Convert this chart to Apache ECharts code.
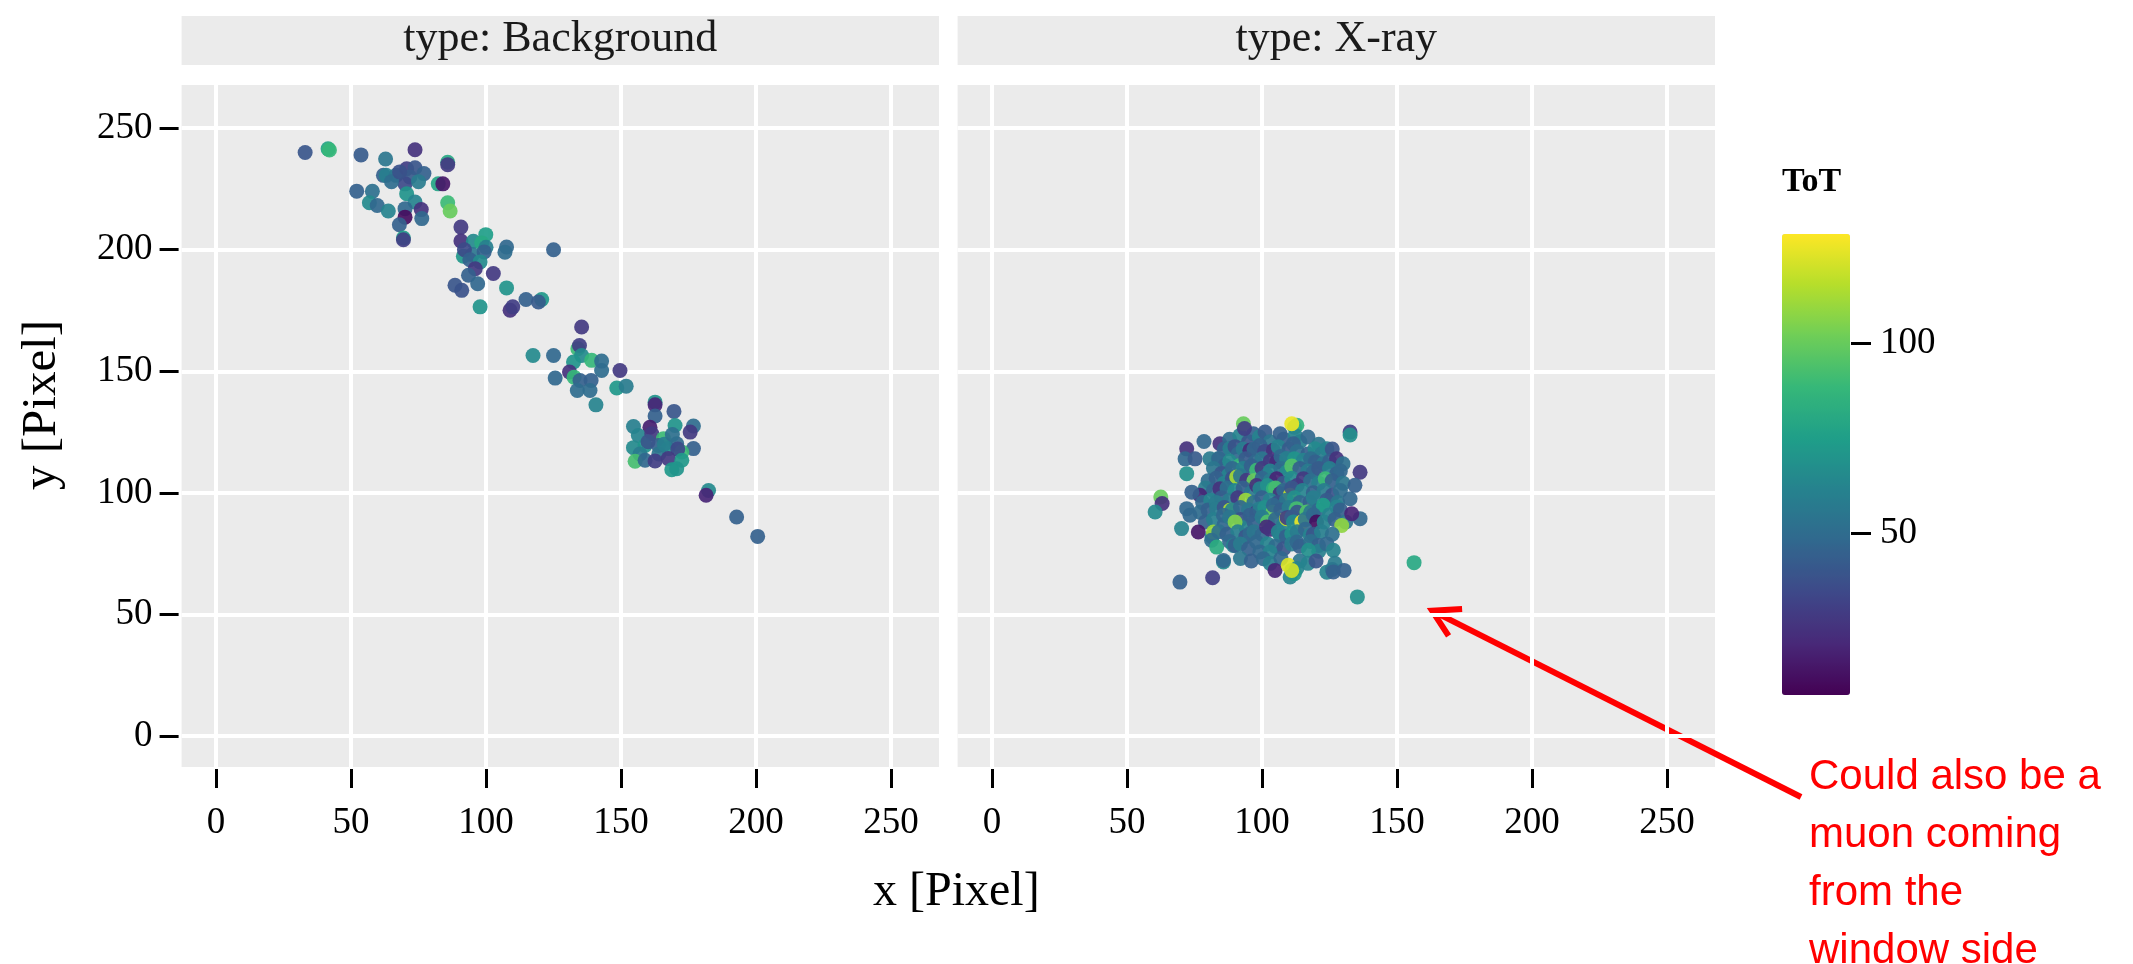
<!DOCTYPE html>
<html><head><meta charset="utf-8">
<script src="https://cdn.jsdelivr.net/npm/echarts@6/dist/echarts.min.js"></script>
<style>html,body{margin:0;padding:0;background:#fff}#c{width:2133px;height:964px}</style>
</head><body><div id="c"></div>
<script>
// ---------- DATA ----------
const panelTitles = ['type: Background', 'type: X-ray'];
const axisTickValues = [0, 50, 100, 150, 200, 250];
const axisRange = [-12.75, 267.75];
const colorTickValues = [50, 100];
const totRange = [7.4, 128.7];
const xTitle = 'x [Pixel]';
const yTitle = 'y [Pixel]';
const colorTitle = 'ToT';
const noteLines = ['Could also be a', 'muon coming', 'from the', 'window side'];
const arrowTipData = [163, 51.5];

// [x, y, ToT]
const backgroundHits = [
[33,240,40],[41.5,241.5,78],[42,241,88],[53.7,239,42],[62.8,237.3,55],[73.7,241.1,25],[85.8,236,80],[85.8,235,28],
[62,230.6,45],[63,230.6,60],[66.7,230.6,55],[70.6,233.3,30],[73.7,233.7,40],[77,231.3,45],[71.8,229.9,42],[70,227.1,35],
[65,228,50],[68,232,38],[75,228,58],
[52.1,224.1,45],[57.9,224,52],[56.8,219.3,65],[59.7,218.2,48],[63.8,215.9,62],[70.6,223,70],[73.7,219.6,62],[70,216.9,48],
[70,213.4,12],[76,216.5,25],[76.2,212.8,48],[67.9,210.3,45],[69.4,204.8,75],[69.4,204.1,30],[82.3,227.1,78],[84,227.1,15],
[85.8,219.3,90],[86.7,215.9,100],[90.7,209.3,28],[90.7,203.6,25],[95.3,203.5,65],[99.9,206.2,75],[98.4,202.8,80],[91.6,197.3,72],
[95,198,55],[92,200,35],[100,201,60],
[94,195.9,45],[99.3,199.1,45],[97.8,195,65],[96,192.2,28],[93.5,189.5,45],[88.5,185.4,40],[91,183.3,38],[96.9,186,48],
[102.7,190.2,28],[107.6,201.1,48],[107,199,50],[107.6,184.3,70],[97.8,176.5,70],[108.9,175.1,25],[109.9,176.5,30],[114.8,179.5,45],
[120.6,179.5,72],[119.4,178.5,42],[125,200,45],[135.4,168.2,28],[117.4,156.5,65],[125,156.5,48],
[134,159.3,90],[134.6,160.6,30],[135.4,156.5,65],[132.4,153.8,70],[139.1,154.5,88],[142.8,154.2,50],[142.8,150.3,50],[130.9,149.7,25],
[132.6,147.6,88],[125.6,147.2,48],[134.8,146.2,45],[138.9,146.2,45],[133.8,142.1,50],[138.5,142.1,50],[149.6,150.3,28],[148.4,143.1,72],
[151.9,143.9,58],[140.7,136.2,62],
[162.6,137.3,70],[162.6,136.2,20],[169.6,133.5,40],[162.6,131.6,45],[154.6,127.3,60],[160.7,127,18],[170,127.7,70],[176.8,127.5,50],
[175.6,125,28],[156.4,123.6,62],[161.4,124.3,28],[165.7,122.3,90],[154.6,118.6,65],[158.9,119.5,70],[163.8,119.5,45],[167.5,118.2,68],
[170.6,120.2,48],[176.8,118.2,45],[172.5,116.8,90],[164,116,55],[166,120,60],[160,121,40],[169,124,52],[157,116,58],[171,118,35],
[155.2,113,92],[158.9,113.4,48],[162.6,113.1,30],[167.5,114.1,28],[172.5,113.4,72],[168.8,109.5,72],[170.6,109.9,70],
[182.4,101,65],[181.5,99,20],[192.8,90.1,45],[200.6,82.1,45]
];

const xrayHits = [
[62.5,98.3,100],[63,95.6,25],[60.4,92.1,65],[69.6,63.3,45],[81.7,65.1,30],[72.1,107.9,68],[72.1,118.1,25],[71.5,114,48],
[78.5,121.1,48],[84.4,120.2,25],[75.2,114,42],[80.7,114,58],[83.8,114,60],
[88,122,50],[91.8,123.6,62],[95,121,40],[96.8,124.3,45],[99,123,62],[101.1,125,42],[103,121,55],[106.7,124.3,45],[108,122,45],
[112,127,70],[112.9,127.8,85],[112.3,123.6,62],[114,121,60],[117,123,48],[121,120,55],
[86,118,45],[88.1,118.2,60],[90,119,38],[91.2,116.1,48],[93,118,58],[95.5,117.5,22],[97,118,48],[99.2,119.5,45],[101,117,35],[104.2,117.5,25],
[106,119,62],[110,118,42],[111.6,120.2,45],[113,117,52],[117,116,45],[119.6,118.1,65],[122,116,58],[124,118.1,62],[126,118,40],
[84,114,48],[86.3,111.3,45],[88,113,65],[91.8,111.3,88],[94,114,42],[97.4,112.7,48],[100,114,55],[103,113,28],[105.4,112.7,22],[107,115,48],
[109.1,114.1,60],[112,114,70],[115.3,113.4,62],[118,114,50],[119.7,112.7,45],[122.7,112,55],[125,113,45],[127.6,114,25],[130,112,52],
[82,110,55],[85,108,40],[87.5,107.2,62],[89,110,48],[93,110,60],[96,111,45],[98,109.3,90],[100,110,28],[101.7,107.2,45],[103,109,62],[107,110,52],
[109.1,108.6,65],[111,111,95],[114,110,45],[117,109,58],[119,108.6,48],[121,110,42],[125,110,60],[127.7,107.9,45],[129,109,48],
[80,105,50],[83,106,45],[86,104,62],[89,106,38],[90.6,106.5,112],[92,107,55],[94.3,105.2,28],[97,105,100],[100,106,48],[103,105,58],
[105.4,105.8,20],[108,104,42],[111,106,65],[113,103,30],[115.3,105.8,28],[118,105,52],[121,104,60],[123.4,105.8,90],[126,105,45],[130,104,55],
[79,102,58],[82,101,48],[84.4,101.7,25],[87,102,52],[90,101,65],[93,102,45],[96,100,55],[98,103,25],[99.2,101.7,62],[102,103,68],
[104.2,101.7,85],[105,102,92],[106.7,99.7,25],[108,101,48],[110.4,99,118],[111,102,40],[115,101,62],[119,100,45],[123,101,58],[126,99,38],[129,101,50],
[77,99,20],[74,100.3,45],[78,96,48],[81,97,62],[85,98,45],[88,97,58],[91,98,28],[94,97,110],[97,96,52],[100,98,45],[103,97,62],[106,96,38],
[109,97,55],[112,98,68],[114,96,48],[117.8,96.2,45],[119,98,60],[124,97,42],[128,96,55],[132.6,97.6,48],
[72.1,93.5,48],[77,92,50],[80,93,45],[83,96,58],[83.2,93.5,58],[86,94,40],[88.1,92.8,115],[89,93,62],[92,94,48],[95,93,55],[98,92,30],
[99.2,93.5,60],[101,94,68],[104,92,100],[104.2,94.9,48],[107,93,45],[110,94,58],[112.8,93.5,92],[113,92,40],[116.6,92.1,95],[118,92,55],
[121,93,48],[122.7,94.9,75],[125,91,62],[127.7,94.2,62],[129,93,45],
[73.3,90.8,48],[79,88,45],[82,89,60],[85.7,90.8,48],[86,87,48],[88,90,55],[92,89,38],[94,86,62],[95.5,90.8,45],[97,88,45],[100,90,58],
[102,88,95],[105,89,48],[108,87,60],[109.1,89.4,118],[109.3,89.8,30],[111,90,42],[111.6,88,65],[114.7,88,125],[116,89,55],[119,91,48],
[120.2,88,12],[123,88,62],[127,89,45],[131,88,55],[136.3,89.4,48],[133.2,91.4,20],[129.5,86.6,108],[90,88,105],
[70.2,85.3,62],[76.4,83.9,15],[81.5,82,62],[82,83.9,110],[84,84,52],[87,83,45],[91,84,60],[94,82,40],[95.5,83.2,48],[97,84,55],[100,83,48],
[101.7,86,22],[103,85,25],[106,84,62],[106.7,82.5,62],[109,82,45],[111,83.2,68],[113,84,58],[116,85,48],[117.8,82.5,62],[119,83,40],[122,84,60],[126,83,52],
[81.3,80.5,50],[83.2,77.7,82],[88,80,48],[89.4,78.4,62],[90,78.4,45],[92,79,58],[95,77,45],[98,79.8,48],[102,79,62],[105,78,50],[108,77,40],
[111,79,58],[112.9,79.8,48],[114,78,45],[118,80,52],[120.9,78.4,45],[121,76,60],[124,79,48],[126.4,76.4,62],[117.2,76.4,68],
[99.2,75.7,48],[103,75.7,62],[85.7,71.6,65],[85.7,72.2,48],[92,73,55],[96,72,45],[100.5,72.9,48],[103,71,60],[107,73,48],[114,72,55],
[117,71,62],[120,72,40],[127,71,58],[104.8,68.1,20],[109.7,70.2,122],[112.9,68.9,62],[110.4,65.4,62],[112,66.8,70],[111,68.1,120],
[124,67.4,62],[126,68.5,55],[126.4,67.5,45],[130.4,68.1,45],[135.3,57.2,68],[156.3,71.3,80],
[93.1,128.4,100],[93.5,126.5,30],[111,128.4,125],[132.6,125,30],[132.6,123.8,68],[136.3,108.5,28],[134.4,103.1,45]
];

const viridis = ['#440154','#482878','#3e4989','#31688e','#26828e','#1f9e89','#35b779','#6ece58','#b5de2b','#fde725'];

// ---------- LAYOUT ----------
const SERIF = 'Liberation Serif';
const panelTop = 85, panelHeight = 682, panelWidth = 757.4;
const panelLefts = [181.6, 957.6];
const stripTop = 16, stripHeight = 49;
const bar = {left: 1782, top: 234, width: 68, height: 461};

const chart = echarts.init(document.getElementById('c'), null, {renderer: 'canvas'});

function valueAxis(gridIndex, showLabels, isY) {
  return {
    type: 'value', gridIndex, min: axisRange[0], max: axisRange[1],
    offset: isY ? 3 : 2,
    axisLine: {show: false, onZero: false},
    axisTick: {show: showLabels, length: 19, lineStyle: {color: '#000', width: 3}, customValues: axisTickValues},
    axisLabel: {show: showLabels, customValues: axisTickValues, fontFamily: SERIF, fontSize: 37, color: '#000', margin: isY ? 26 : 36},
    splitLine: {show: true, lineStyle: {color: '#fff', width: 4}}
  };
}

const graphics = [];
panelTitles.forEach((t, i) => {
  graphics.push({type: 'rect', silent: true, shape: {x: panelLefts[i], y: stripTop, width: panelWidth, height: stripHeight},
    style: {fill: '#EBEBEB'}});
  graphics.push({type: 'text', silent: true, x: panelLefts[i] + panelWidth / 2, y: stripTop + stripHeight / 2 - 1,
    style: {text: t, fontFamily: SERIF, fontSize: 44, fill: '#1a1a1a', align: 'center', verticalAlign: 'middle'}});
});
graphics.push({type: 'text', silent: true, x: (panelLefts[0] + panelLefts[1] + panelWidth) / 2 + 8, y: 892,
  style: {text: xTitle, fontFamily: SERIF, fontSize: 48, fill: '#000', align: 'center', verticalAlign: 'middle'}});
graphics.push({type: 'text', silent: true, x: 42, y: 405, rotation: Math.PI / 2,
  style: {text: yTitle, fontFamily: SERIF, fontSize: 49, fill: '#000', align: 'center', verticalAlign: 'middle'}});
graphics.push({type: 'text', silent: true, x: bar.left, y: 182,
  style: {text: colorTitle, fontFamily: SERIF, fontSize: 34, fontWeight: 'bold', fill: '#000', align: 'left', verticalAlign: 'middle'}});
noteLines.forEach((t, i) => {
  graphics.push({type: 'text', silent: true, x: 1809, y: 777 + i * 58,
    style: {text: t, fontFamily: 'Liberation Sans', fontSize: 42, fill: '#FF0000', align: 'left', verticalAlign: 'middle'}});
});

const option = {
  animation: false,
  backgroundColor: '#fff',
  grid: [
    {left: panelLefts[0], top: panelTop, width: panelWidth, height: panelHeight, show: true, backgroundColor: '#EBEBEB', borderWidth: 0},
    {left: panelLefts[1], top: panelTop, width: panelWidth, height: panelHeight, show: true, backgroundColor: '#EBEBEB', borderWidth: 0},
    {left: bar.left, top: bar.top, width: bar.width, height: bar.height, show: false}
  ],
  xAxis: [valueAxis(0, true, false), valueAxis(1, true, false), {type: 'value', gridIndex: 2, show: false, min: 0, max: 1}],
  yAxis: [valueAxis(0, true, true), valueAxis(1, false, true),
    {type: 'value', gridIndex: 2, position: 'right', min: totRange[0], max: totRange[1], offset: 1,
     axisLine: {show: false, onZero: false}, splitLine: {show: false},
     axisTick: {show: true, length: 20, lineStyle: {color: '#000', width: 3}, customValues: colorTickValues},
     axisLabel: {customValues: colorTickValues, fontFamily: SERIF, fontSize: 37, color: '#000', margin: 29}}],
  visualMap: [{
    type: 'continuous', min: totRange[0], max: totRange[1], dimension: 2, seriesIndex: [0, 1],
    calculable: false, hoverLink: false, left: bar.left, top: bar.top, itemWidth: bar.width, itemHeight: bar.height,
    padding: 0, text: null, inRange: {color: viridis}
  }],
  series: [
    {type: 'scatter', xAxisIndex: 0, yAxisIndex: 0, data: backgroundHits, symbolSize: 15, itemStyle: {opacity: 0.92}, silent: true},
    {type: 'scatter', xAxisIndex: 1, yAxisIndex: 1, data: xrayHits, symbolSize: 15, itemStyle: {opacity: 0.92}, silent: true}
  ],
  graphic: graphics
};
chart.setOption(option);

// arrow annotation pointing at a data location in the X-ray panel
const tip = chart.convertToPixel({gridIndex: 1}, arrowTipData);
const tail = [1801, 797];
const ang = Math.atan2(tail[1] - tip[1], tail[0] - tip[0]);
const armLen = 30, spread = Math.PI / 6;
const a1 = [tip[0] + armLen * Math.cos(ang - spread), tip[1] + armLen * Math.sin(ang - spread)];
const a2 = [tip[0] + armLen * Math.cos(ang + spread), tip[1] + armLen * Math.sin(ang + spread)];
chart.setOption({graphic: graphics.concat([
  {type: 'line', silent: true, shape: {x1: tail[0], y1: tail[1], x2: tip[0] + 3 * Math.cos(ang), y2: tip[1] + 3 * Math.sin(ang)},
   style: {stroke: '#FF0000', lineWidth: 6}},
  {type: 'polyline', silent: true, shape: {points: [a1, tip, a2]}, style: {stroke: '#FF0000', lineWidth: 6, fill: null, lineJoin: 'miter'}}
])});
</script></body></html>
